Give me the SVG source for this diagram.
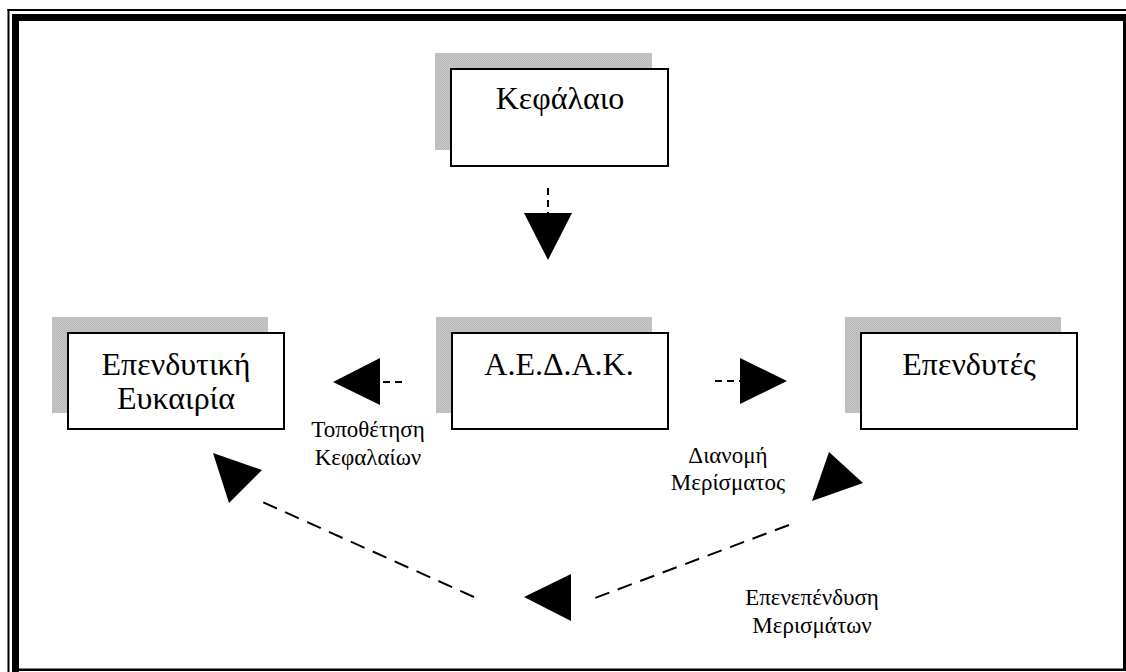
<svg xmlns="http://www.w3.org/2000/svg" width="1126" height="672" viewBox="0 0 1126 672">
  <defs>
    <!-- fine dithered grey used for the drop shadows -->
    <pattern id="dither" width="2" height="2" patternUnits="userSpaceOnUse">
      <rect width="2" height="2" fill="#c8c8c8"/>
      <rect width="1" height="1" fill="#b8b8b8"/>
      <rect x="1" y="1" width="1" height="1" fill="#b8b8b8"/>
    </pattern>
  </defs>
  <style>
    .frame { fill: #000; }
    .shadow { fill: url(#dither); }
    .box { fill: #fff; stroke: #000; stroke-width: 2; }
    .title { font-family: "Liberation Serif", "Times New Roman", serif; font-size: 32px; fill: #000; text-anchor: middle; }
    .label { font-family: "Liberation Serif", "Times New Roman", serif; font-size: 23px; fill: #000; text-anchor: middle; }
    .dash-short { stroke: #000; stroke-width: 2; stroke-dasharray: 7 5; fill: none; }
    .dash-long { stroke: #000; stroke-width: 2; stroke-dasharray: 15 9; fill: none; }
    .head { fill: #000; }
  </style>

  <rect width="1126" height="672" fill="#fff"/>

  <!-- page border: thin outer rule + thick top/left, thin right/bottom -->
  <g id="border">
    <rect class="frame" x="7.5" y="9" width="1118.5" height="2"/>
    <rect class="frame" x="7.5" y="9" width="2" height="663"/>
    <rect class="frame" x="12" y="14" width="1114" height="7"/>
    <rect class="frame" x="12" y="14" width="7" height="658"/>
    <rect class="frame" x="1123" y="14" width="3" height="657"/>
    <rect class="frame" x="12" y="668.5" width="1114" height="2.5"/>
  </g>

  <g id="node-kefalaio">
    <rect class="shadow" x="435" y="53" width="217" height="97"/>
    <rect class="box" x="451" y="69" width="217" height="97"/>
    <text class="title" x="560" y="109">Κεφάλαιο</text>
  </g>

  <g id="node-ependytiki">
    <rect class="shadow" x="52" y="317" width="216" height="96"/>
    <rect class="box" x="68" y="333" width="216" height="96"/>
    <text class="title" x="176" y="375">Επενδυτική</text>
    <text class="title" x="176" y="409">Ευκαιρία</text>
  </g>

  <g id="node-aedak">
    <rect class="shadow" x="436" y="317" width="216" height="96"/>
    <rect class="box" x="452" y="333" width="216" height="96"/>
    <text class="title" x="559" y="375">Α.Ε.Δ.Α.Κ.</text>
  </g>

  <g id="node-ependytes">
    <rect class="shadow" x="845" y="317" width="216" height="96"/>
    <rect class="box" x="861" y="333" width="216" height="96"/>
    <text class="title" x="969" y="375">Επενδυτές</text>
  </g>

  <g id="connectors">
    <!-- capital flows into the fund -->
    <line class="dash-short" x1="548" y1="188" x2="548" y2="213"/>
    <polygon class="head" points="524,213 572,213 548,260"/>

    <!-- fund places capital -->
    <line class="dash-short" x1="402" y1="382" x2="380" y2="382"/>
    <polygon class="head" points="333,382 380,358 380,405"/>

    <!-- fund pays dividends -->
    <line class="dash-short" x1="715" y1="381" x2="740" y2="381"/>
    <polygon class="head" points="740,358 740,404 787,381"/>

    <!-- reinvestment loop -->
    <line class="dash-long" x1="789" y1="525" x2="595" y2="598"/>
    <polygon class="head" points="524,597 571,574 571,621"/>
    <line class="dash-long" x1="474" y1="597" x2="258" y2="500"/>
    <polygon class="head" points="213,453 262,470 229,503"/>
    <polygon class="head" points="829,452 863,483 812,501"/>
  </g>

  <g id="labels">
    <text class="label" x="368" y="437">Τοποθέτηση</text>
    <text class="label" x="368" y="465">Κεφαλαίων</text>
    <text class="label" x="728" y="463">Διανομή</text>
    <text class="label" x="728" y="490">Μερίσματος</text>
    <text class="label" x="812" y="605">Επενεπένδυση</text>
    <text class="label" x="812" y="633">Μερισμάτων</text>
  </g>
</svg>
